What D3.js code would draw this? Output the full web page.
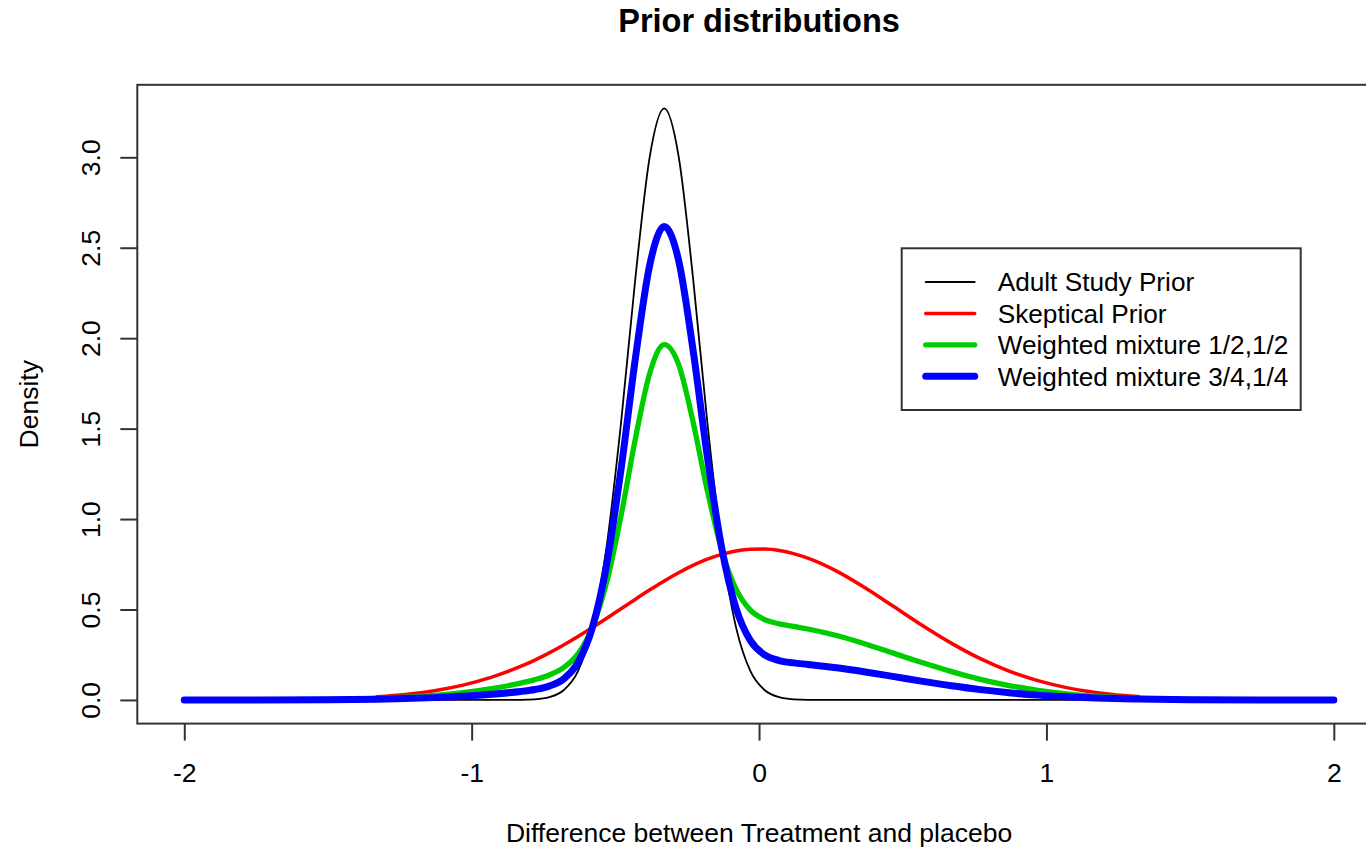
<!DOCTYPE html>
<html>
<head>
<meta charset="utf-8">
<script src="https://cdn.jsdelivr.net/npm/d3@7"></script>
<style>
  body { margin: 0; background: #fff; }
  svg { display: block; font-family: "Liberation Sans", Arial, sans-serif; }
</style>
</head>
<body>
<svg width="1366" height="850"></svg>
<script>
// x grid shared by all curves (null = curve not drawn there)
var xs = [-2, -1.75, -1.5, -1.33, -1.23, -1.13, -1.03, -0.93, -0.83, -0.78, -0.73, -0.68,
  -0.63, -0.58, -0.53, -0.48, -0.43, -0.38, -0.33, -0.28, -0.23, -0.18, -0.13, -0.08,
  -0.03, 0.02, 0.07, 0.12, 0.17, 0.27, 0.37, 0.47, 0.57, 0.67, 0.77, 0.87, 0.97, 1.07,
  1.17, 1.27, 1.32, 1.5, 1.75, 2];

var adultPrior = [null, null, null, null, 0, 0, 0, 0, 0.0007, 0.0036, 0.0152, 0.0534,
  0.159, 0.401, 0.853, 1.536, 2.337, 3.007, 3.27, 3.007, 2.337, 1.536, 0.853, 0.401,
  0.159, 0.0534, 0.0152, 0.0036, 0.0007, 0, 0, 0, 0, 0, 0, 0, 0, 0,
  0, null, null, null, null, null];

var skepticalPrior = [null, null, null, 0.0174, 0.0305, 0.0511, 0.082, 0.1258, 0.185, 0.2205, 0.2602, 0.3036,
  0.3504, 0.400, 0.4516, 0.5043, 0.5571, 0.6087, 0.658, 0.7033, 0.7437, 0.7779, 0.8047, 0.8234,
  0.8334, 0.8343, 0.8261, 0.8091, 0.7838, 0.7119, 0.6188, 0.515, 0.4101, 0.3127, 0.2281, 0.1594, 0.1065, 0.0682,
  0.0418, 0.0245, 0.0184, null, null, null];

var mixHalf = [0.0001, 0.0005, 0.003, 0.0087, 0.0153, 0.0256, 0.041, 0.0629, 0.0929, 0.1121, 0.1377, 0.1785,
  0.2547, 0.4005, 0.6523, 1.0202, 1.4471, 1.8079, 1.964, 1.8552, 1.5404, 1.157, 0.8289, 0.6122,
  0.4962, 0.4439, 0.4207, 0.4064, 0.3923, 0.356, 0.3094, 0.2575, 0.2051, 0.1564, 0.1141, 0.0797, 0.0533, 0.0341,
  0.0209, 0.0123, 0.0092, 0.003, 0.0005, 0.0001];

var mixQuarter = [0.00003, 0.0003, 0.0015, 0.0044, 0.0076, 0.0128, 0.0205, 0.0315, 0.0468, 0.0578, 0.0765, 0.116,
  0.2069, 0.4008, 0.7527, 1.2781, 1.892, 2.4074, 2.617, 2.4311, 1.9387, 1.3465, 0.841, 0.5066,
  0.3276, 0.2486, 0.2179, 0.205, 0.1965, 0.178, 0.1547, 0.1288, 0.1025, 0.0782, 0.057, 0.0399, 0.0266, 0.0171,
  0.0105, 0.0061, 0.0046, 0.0015, 0.0003, 0.00003];

var seriesNames = ["Adult Study Prior", "Skeptical Prior", "Weighted mixture 1/2,1/2", "Weighted mixture 3/4,1/4"];
var seriesColors = ["#000000", "#ff0000", "#00cd00", "#0000ff"];
var seriesWidths = [1.8, 3.5, 5.3, 7];
var seriesValues = [adultPrior, skepticalPrior, mixHalf, mixQuarter];

var xTicks = [-2, -1, 0, 1, 2];
var yTicks = [0, 0.5, 1, 1.5, 2, 2.5, 3];

var svg = d3.select("svg");

// R style 4% extension of the data range
var xMin = d3.min(xs), xMax = d3.max(xs);
var xPad = (xMax - xMin) * 0.04;
var yMax = d3.max(seriesValues, function (s) { return d3.max(s); });
var yPad = yMax * 0.04;

var x = d3.scaleLinear().domain([xMin - xPad, xMax + xPad]).range([138.3, 1379.8]);
var y = d3.scaleLinear().domain([-yPad, yMax + yPad]).range([723.6, 84.8]);

// curves, drawn in order (blue on top)
var line = d3.line()
  .defined(function (d) { return d[1] != null; })
  .x(function (d) { return x(d[0]); })
  .y(function (d) { return y(d[1]); })
  .curve(d3.curveMonotoneX);

seriesValues.forEach(function (vals, i) {
  svg.append("path")
    .datum(xs.map(function (v, j) { return [v, vals[j]]; }))
    .attr("d", line)
    .attr("fill", "none")
    .attr("stroke", seriesColors[i])
    .attr("stroke-width", seriesWidths[i])
    .attr("stroke-linejoin", "round")
    .attr("stroke-linecap", "round");
});

// plot box
svg.append("rect")
  .attr("x", x.range()[0] - 1)
  .attr("y", y.range()[1])
  .attr("width", x.range()[1] - x.range()[0] + 1)
  .attr("height", y.range()[0] - y.range()[1])
  .attr("fill", "none")
  .attr("stroke", "#333")
  .attr("stroke-width", 2);

// x axis
var xAxis = svg.append("g")
  .attr("transform", "translate(0," + y.range()[0] + ")")
  .call(d3.axisBottom(x).tickValues(xTicks).tickSize(17).tickPadding(23)
    .tickFormat(function (d) { return d3.format("d")(d).replace("−", "-"); }));
xAxis.select(".domain").remove();
xAxis.selectAll("line").attr("stroke", "#333").attr("stroke-width", 2);
xAxis.selectAll("text").attr("font-size", 26.5).attr("fill", "#000")
  .attr("font-family", "Liberation Sans, Arial, sans-serif");

// y axis, labels rotated as in R
var yAxis = svg.append("g")
  .attr("transform", "translate(" + (x.range()[0] - 1) + ",0)")
  .call(d3.axisLeft(y).tickValues(yTicks).tickSize(17).tickFormat(d3.format(".1f")));
yAxis.select(".domain").remove();
yAxis.selectAll("line").attr("stroke", "#333").attr("stroke-width", 2);
yAxis.selectAll("text")
  .attr("x", null).attr("dy", null)
  .attr("transform", "translate(-37,0) rotate(-90)")
  .attr("text-anchor", "middle")
  .attr("font-size", 26.5).attr("fill", "#000")
  .attr("font-family", "Liberation Sans, Arial, sans-serif");

// titles
var cx = (x.range()[0] + x.range()[1]) / 2;
var cy = (y.range()[0] + y.range()[1]) / 2;
svg.append("text")
  .attr("x", cx).attr("y", 32)
  .attr("text-anchor", "middle")
  .attr("font-size", 32.5).attr("font-weight", "bold")
  .text("Prior distributions");
svg.append("text")
  .attr("x", cx).attr("y", 842)
  .attr("text-anchor", "middle")
  .attr("font-size", 26.5)
  .text("Difference between Treatment and placebo");
svg.append("text")
  .attr("transform", "translate(38," + cy + ") rotate(-90)")
  .attr("text-anchor", "middle")
  .attr("font-size", 26.5)
  .text("Density");

// legend
var legend = svg.append("g").attr("transform", "translate(901.7,248.3)");
legend.append("rect")
  .attr("width", 399).attr("height", 161.7)
  .attr("fill", "#fff").attr("stroke", "#333").attr("stroke-width", 2);
seriesNames.forEach(function (name, i) {
  var ry = 33.7 + i * 31.4;
  legend.append("line")
    .attr("x1", 24).attr("x2", 73).attr("y1", ry).attr("y2", ry)
    .attr("stroke", seriesColors[i]).attr("stroke-width", seriesWidths[i])
    .attr("stroke-linecap", "round");
  legend.append("text")
    .attr("x", 96).attr("y", ry + 9.5)
    .attr("font-size", 26.2)
    .text(name);
});
</script>
</body>
</html>
